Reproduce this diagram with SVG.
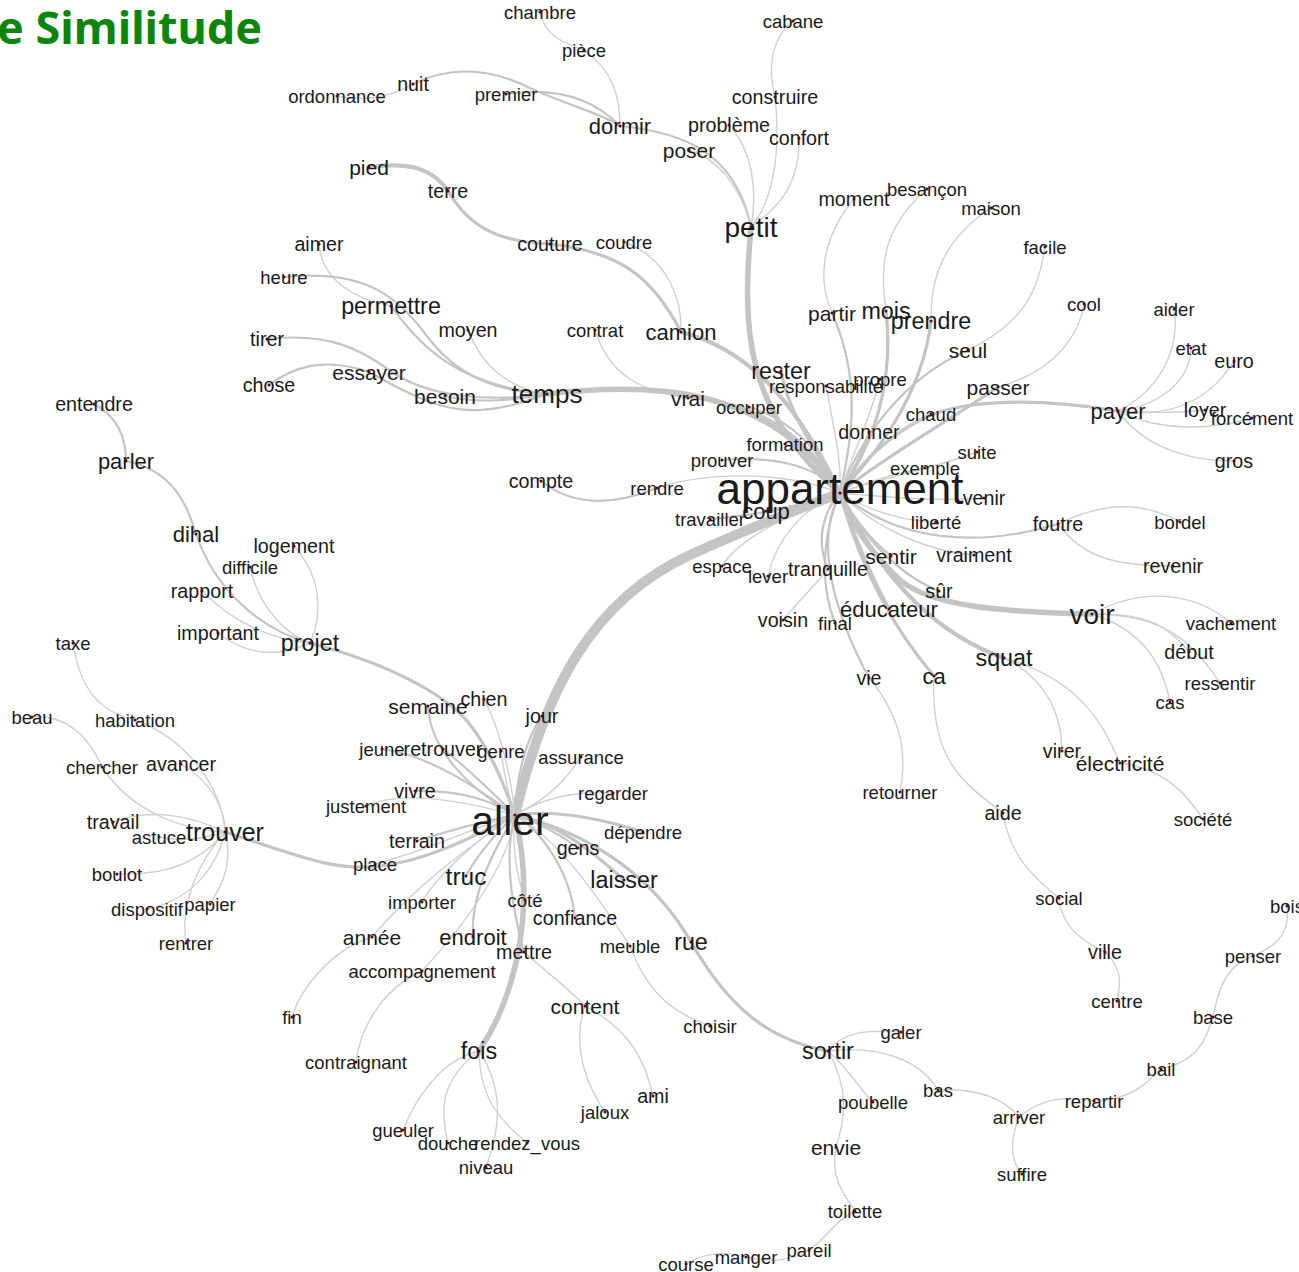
<svg xmlns="http://www.w3.org/2000/svg" width="1299" height="1272" viewBox="0 0 1299 1272">
<style>
.e{fill:none;stroke:#c4c4c4;stroke-linecap:round}
.w1{stroke-width:1.4;stroke:#d0d0d0}
.w2{stroke-width:2.2}
.w3{stroke-width:3.2}
.w4{stroke-width:4.2}
.w5{stroke-width:5.5}
.w10{stroke-width:10}
text{font-family:"Liberation Sans",Arial,sans-serif;fill:#1a1a1a;text-anchor:middle;dominant-baseline:central}
.t18{font-size:18.5px}.t20{font-size:19.7px}.t21{font-size:21px}.t22{font-size:22px}.t23{font-size:23.3px}.t24{font-size:24.5px}
.t25{font-size:25px}.t26{font-size:26px}.t28{font-size:28px}.t41{font-size:41px}.t44{font-size:44px}
.d{fill:#5a0a0a}
.title{font-family:"Noto Sans","DejaVu Sans",sans-serif;font-weight:bold;font-size:45px;fill:#0b860b;text-anchor:start;dominant-baseline:alphabetic}
</style>
<rect width="1299" height="1272" fill="#ffffff"/>
<text class="title" x="-3" y="44">e Similitude</text>
<g id="edges">
<path class="e w1" d="M540,12 C544,36 566,44 584,50"/>
<path class="e w1" d="M584,50 C612,70 620,95 620,126"/>
<path class="e w1" d="M337,96 C370,102 392,96 413,84"/>
<path class="e w2" d="M413,84 C450,66 490,68 530,88 C575,108 605,115 620,126"/>
<path class="e w2" d="M506,94 C560,86 595,100 620,126"/>
<path class="e w2" d="M620,126 C680,132 735,150 751,227"/>
<path class="e w1" d="M689,150 C720,160 742,190 751,227"/>
<path class="e w1" d="M729,125 C752,150 758,190 751,227"/>
<path class="e w1" d="M793,21 C770,40 768,70 775,97"/>
<path class="e w1" d="M775,97 C782,160 770,205 751,227"/>
<path class="e w1" d="M799,138 C800,190 772,212 751,227"/>
<path class="e w5" d="M751,227 C742,330 744,410 840,493"/>
<path class="e w4" d="M369,167 C410,162 432,168 448,191"/>
<path class="e w3" d="M448,191 C472,232 505,242 550,244"/>
<path class="e w3" d="M550,244 C625,252 655,282 681,332"/>
<path class="e w1" d="M624,242 C668,258 682,300 681,332"/>
<path class="e w4" d="M681,332 C760,352 805,420 840,493"/>
<path class="e w1" d="M319,244 C322,282 358,300 391,306"/>
<path class="e w2" d="M284,277 C370,268 400,300 430,340 C460,378 500,392 547,394"/>
<path class="e w2" d="M391,306 C420,345 455,385 547,394"/>
<path class="e w1" d="M468,330 C480,362 505,388 547,394"/>
<path class="e w2" d="M267,339 C330,332 362,350 392,372 C430,398 490,402 547,394"/>
<path class="e w2" d="M269,385 C292,368 322,356 369,372"/>
<path class="e w2" d="M369,372 C415,398 445,412 480,410 C510,408 530,400 547,394"/>
<path class="e w2" d="M445,396 C480,404 515,400 547,394"/>
<path class="e w1" d="M595,330 C610,378 645,392 688,398"/>
<path class="e w5" d="M547,394 C650,382 770,385 840,493"/>
<path class="e w2" d="M688,398 C760,400 812,440 840,493"/>
<path class="e w2" d="M749,407 C792,420 822,452 840,493"/>
<path class="e w3" d="M781,371 C790,420 822,458 840,493"/>
<path class="e w1" d="M826,386 C834,430 842,462 840,493"/>
<path class="e w2" d="M785,444 C812,455 832,472 840,493"/>
<path class="e w2" d="M722,460 C782,455 822,470 840,493"/>
<path class="e w1" d="M657,488 C705,472 782,470 840,493"/>
<path class="e w2" d="M541,481 C572,506 612,506 657,488"/>
<path class="e w2" d="M711,519 C762,514 812,505 840,493"/>
<path class="e w2" d="M765,511 C800,505 826,500 840,493"/>
<path class="e w1" d="M722,566 C735,545 765,525 840,493"/>
<path class="e w1" d="M768,576 C776,540 802,508 840,493"/>
<path class="e w2" d="M828,569 C815,540 824,510 840,493"/>
<path class="e w1" d="M783,620 C800,600 816,584 828,569"/>
<path class="e w2" d="M835,623 C818,580 824,530 840,493"/>
<path class="e w2" d="M869,678 C838,620 812,545 840,493"/>
<path class="e w1" d="M869,678 C906,722 906,762 900,792"/>
<path class="e w3" d="M934,676 C888,622 858,560 840,493"/>
<path class="e w1" d="M934,676 C930,760 962,782 1003,813"/>
<path class="e w1" d="M1003,813 C1010,860 1040,882 1059,898"/>
<path class="e w1" d="M1059,898 C1062,930 1088,944 1105,952"/>
<path class="e w1" d="M1105,952 C1124,970 1120,986 1117,1001"/>
<path class="e w3" d="M889,609 C868,570 852,530 840,493"/>
<path class="e w4" d="M1004,658 C930,632 878,572 840,493"/>
<path class="e w1" d="M1004,658 C1050,680 1062,720 1062,751"/>
<path class="e w1" d="M1004,658 C1080,680 1102,722 1120,763"/>
<path class="e w1" d="M1120,763 C1170,770 1190,800 1203,819"/>
<path class="e w5" d="M1092,614 C1000,612 930,606 900,580 C870,552 850,522 840,493"/>
<path class="e w1" d="M1092,614 C1140,588 1192,590 1231,623"/>
<path class="e w1" d="M1092,614 C1150,612 1172,630 1189,652"/>
<path class="e w1" d="M1092,614 C1162,614 1192,640 1220,683"/>
<path class="e w1" d="M1092,614 C1142,630 1162,662 1170,702"/>
<path class="e w2" d="M939,591 C898,575 858,532 840,493"/>
<path class="e w2" d="M891,556 C868,538 850,512 840,493"/>
<path class="e w1" d="M974,555 C918,550 868,522 840,493"/>
<path class="e w2" d="M1058,524 C978,548 898,542 840,493"/>
<path class="e w1" d="M1058,524 C1110,498 1150,505 1180,522"/>
<path class="e w1" d="M1058,524 C1082,556 1112,566 1173,566"/>
<path class="e w1" d="M936,522 C900,521 868,510 840,493"/>
<path class="e w1" d="M984,498 C930,502 880,496 840,493"/>
<path class="e w1" d="M925,468 C890,474 860,485 840,493"/>
<path class="e w1" d="M977,452 C930,470 872,480 840,493"/>
<path class="e w3" d="M1118,411 C1040,398 962,398 920,420 C882,440 856,470 840,493"/>
<path class="e w1" d="M931,414 C890,432 860,462 840,493"/>
<path class="e w3" d="M998,387 C950,420 880,460 840,493"/>
<path class="e w1" d="M998,387 C1060,370 1080,330 1084,304"/>
<path class="e w1" d="M1118,411 C1160,390 1180,350 1174,309"/>
<path class="e w1" d="M1118,411 C1162,405 1190,380 1191,348"/>
<path class="e w1" d="M1118,411 C1180,420 1215,392 1234,361"/>
<path class="e w1" d="M1118,411 C1150,413 1180,413 1205,410"/>
<path class="e w1" d="M1118,411 C1160,432 1212,430 1252,418"/>
<path class="e w1" d="M1118,411 C1140,442 1180,461 1234,461"/>
<path class="e w2" d="M869,432 C860,460 848,480 840,493"/>
<path class="e w2" d="M968,350 C900,380 860,440 840,493"/>
<path class="e w1" d="M968,350 C1030,320 1040,282 1045,247"/>
<path class="e w3" d="M931,321 C922,400 870,460 840,493"/>
<path class="e w1" d="M991,208 C942,240 930,280 931,321"/>
<path class="e w3" d="M886,311 C896,400 862,460 840,493"/>
<path class="e w1" d="M927,189 C880,230 880,270 886,311"/>
<path class="e w2" d="M832,313 C862,380 852,440 840,493"/>
<path class="e w1" d="M854,199 C820,240 818,282 832,313"/>
<path class="e w1" d="M880,379 C870,420 850,460 840,493"/>
<path class="e w10" d="M515,815 C545,690 592,600 690,555 C760,523 810,505 840,493"/>
<path class="e w2" d="M94,404 C120,418 126,440 126,461"/>
<path class="e w2" d="M126,461 C170,470 186,500 196,534"/>
<path class="e w2" d="M196,534 C216,592 262,630 310,643"/>
<path class="e w1" d="M294,546 C326,582 320,622 310,643"/>
<path class="e w1" d="M250,567 C260,612 290,636 310,643"/>
<path class="e w1" d="M202,591 C232,622 272,640 310,643"/>
<path class="e w1" d="M218,633 C250,658 282,656 310,643"/>
<path class="e w3" d="M310,643 C382,662 440,690 468,722 C492,752 506,790 515,815"/>
<path class="e w3" d="M225,832 C300,856 335,872 380,866 C432,860 482,832 515,815"/>
<path class="e w1" d="M73,643 C80,690 100,712 135,720"/>
<path class="e w1" d="M135,720 C190,740 222,790 225,832"/>
<path class="e w1" d="M32,717 C70,714 90,740 102,767"/>
<path class="e w1" d="M102,767 C130,810 180,830 225,832"/>
<path class="e w1" d="M181,764 C210,780 226,810 225,832"/>
<path class="e w1" d="M113,822 C150,808 190,815 225,832"/>
<path class="e w1" d="M159,837 C185,842 205,838 225,832"/>
<path class="e w1" d="M117,874 C170,876 202,860 225,832"/>
<path class="e w1" d="M147,909 C190,900 216,870 225,832"/>
<path class="e w1" d="M210,904 C226,880 232,858 225,832"/>
<path class="e w1" d="M186,943 C180,900 200,860 225,832"/>
<path class="e w2" d="M428,706 C430,750 470,790 515,815"/>
<path class="e w1" d="M484,699 C500,730 510,770 515,815"/>
<path class="e w2" d="M542,716 C525,740 516,780 515,815"/>
<path class="e w2" d="M382,749 C430,755 480,790 515,815"/>
<path class="e w2" d="M443,749 C470,770 500,800 515,815"/>
<path class="e w1" d="M501,751 C505,780 510,800 515,815"/>
<path class="e w1" d="M581,757 C560,790 535,805 515,815"/>
<path class="e w1" d="M613,793 C570,790 540,800 515,815"/>
<path class="e w2" d="M415,791 C460,790 490,800 515,815"/>
<path class="e w1" d="M366,806 C400,790 460,800 515,815"/>
<path class="e w2" d="M417,841 C450,830 480,822 515,815"/>
<path class="e w1" d="M375,864 C430,850 480,825 515,815"/>
<path class="e w3" d="M643,832 C590,815 550,810 515,815"/>
<path class="e w2" d="M578,848 C555,830 530,820 515,815"/>
<path class="e w3" d="M624,880 C580,840 550,822 515,815"/>
<path class="e w2" d="M466,876 C480,850 500,830 515,815"/>
<path class="e w1" d="M422,902 C440,870 490,830 515,815"/>
<path class="e w1" d="M372,937 C420,880 480,840 515,815"/>
<path class="e w2" d="M473,937 C470,890 500,840 515,815"/>
<path class="e w1" d="M422,971 C470,920 510,860 515,815"/>
<path class="e w1" d="M525,900 C515,870 512,840 515,815"/>
<path class="e w2" d="M524,952 C510,900 505,850 515,815"/>
<path class="e w2" d="M575,918 C570,870 540,830 515,815"/>
<path class="e w5" d="M479,1051 C520,990 535,900 515,815"/>
<path class="e w3" d="M691,942 C650,870 580,830 515,815"/>
<path class="e w1" d="M630,946 C600,900 560,840 515,815"/>
<path class="e w1" d="M630,946 C650,1000 680,1015 710,1026"/>
<path class="e w3" d="M691,942 C730,1010 770,1040 828,1051"/>
<path class="e w1" d="M372,937 C330,950 300,990 292,1017"/>
<path class="e w1" d="M422,971 C380,990 360,1030 356,1062"/>
<path class="e w1" d="M524,952 C550,975 570,990 585,1006"/>
<path class="e w1" d="M585,1006 C570,1050 590,1090 605,1112"/>
<path class="e w1" d="M585,1006 C630,1030 645,1060 653,1096"/>
<path class="e w1" d="M479,1051 C440,1060 415,1100 403,1130"/>
<path class="e w1" d="M479,1051 C440,1080 440,1110 448,1143"/>
<path class="e w1" d="M479,1051 C480,1100 500,1120 527,1143"/>
<path class="e w1" d="M479,1051 C505,1090 500,1130 486,1167"/>
<path class="e w1" d="M828,1051 C845,1030 870,1030 901,1032"/>
<path class="e w1" d="M828,1051 C880,1045 920,1060 938,1090"/>
<path class="e w1" d="M828,1051 C850,1070 860,1090 873,1102"/>
<path class="e w1" d="M828,1051 C850,1090 845,1120 836,1147"/>
<path class="e w1" d="M938,1090 C980,1088 1005,1100 1019,1117"/>
<path class="e w1" d="M1019,1117 C1010,1140 1010,1160 1022,1174"/>
<path class="e w1" d="M1019,1117 C1040,1100 1060,1095 1094,1101"/>
<path class="e w1" d="M1094,1101 C1130,1100 1145,1085 1161,1069"/>
<path class="e w1" d="M1161,1069 C1200,1060 1205,1040 1213,1017"/>
<path class="e w1" d="M1213,1017 C1220,980 1230,965 1253,956"/>
<path class="e w1" d="M1253,956 C1280,945 1290,930 1287,906"/>
<path class="e w1" d="M836,1147 C830,1180 845,1195 855,1211"/>
<path class="e w1" d="M855,1211 C835,1220 825,1240 809,1250"/>
<path class="e w1" d="M809,1250 C790,1262 770,1262 746,1257"/>
<path class="e w1" d="M746,1257 C720,1250 700,1255 686,1264"/>
</g>
<g id="n-appartement"><text class="t44" x="840" y="488">appartement</text><circle class="d" cx="840" cy="493" r="1.6"/></g>
<g id="n-aller"><text class="t41" x="510" y="821">aller</text><circle class="d" cx="515" cy="815" r="1.6"/></g>
<g id="n-petit"><text class="t28" x="751" y="227">petit</text><circle class="d" cx="751" cy="227" r="1.5"/></g>
<g id="n-voir"><text class="t28" x="1092" y="614">voir</text><circle class="d" cx="1092" cy="614" r="1.5"/></g>
<g id="n-temps"><text class="t26" x="547" y="394">temps</text><circle class="d" cx="547" cy="394" r="1.5"/></g>
<g id="n-trouver"><text class="t25" x="225" y="832">trouver</text><circle class="d" cx="225" cy="832" r="1.5"/></g>
<g id="n-truc"><text class="t24" x="466" y="876">truc</text><circle class="d" cx="466" cy="876" r="1.5"/></g>
<g id="n-permettre"><text class="t23" x="391" y="306">permettre</text><circle class="d" cx="391" cy="306" r="1.5"/></g>
<g id="n-rester"><text class="t23" x="781" y="371">rester</text><circle class="d" cx="781" cy="371" r="1.5"/></g>
<g id="n-prendre"><text class="t23" x="931" y="321">prendre</text><circle class="d" cx="931" cy="321" r="1.5"/></g>
<g id="n-mois"><text class="t23" x="886" y="311">mois</text><circle class="d" cx="886" cy="311" r="1.5"/></g>
<g id="n-projet"><text class="t23" x="310" y="643">projet</text><circle class="d" cx="310" cy="643" r="1.5"/></g>
<g id="n-laisser"><text class="t23" x="624" y="880">laisser</text><circle class="d" cx="624" cy="880" r="1.5"/></g>
<g id="n-rue"><text class="t23" x="691" y="942">rue</text><circle class="d" cx="691" cy="942" r="1.5"/></g>
<g id="n-sortir"><text class="t23" x="828" y="1051">sortir</text><circle class="d" cx="828" cy="1051" r="1.5"/></g>
<g id="n-fois"><text class="t23" x="479" y="1051">fois</text><circle class="d" cx="479" cy="1051" r="1.5"/></g>
<g id="n-squat"><text class="t23" x="1004" y="658">squat</text><circle class="d" cx="1004" cy="658" r="1.5"/></g>
<g id="n-camion"><text class="t22" x="681" y="332">camion</text><circle class="d" cx="681" cy="332" r="1.5"/></g>
<g id="n-dormir"><text class="t22" x="620" y="126">dormir</text><circle class="d" cx="620" cy="126" r="1.5"/></g>
<g id="n-dihal"><text class="t22" x="196" y="534">dihal</text><circle class="d" cx="196" cy="534" r="1.5"/></g>
<g id="n-parler"><text class="t22" x="126" y="461">parler</text><circle class="d" cx="126" cy="461" r="1.5"/></g>
<g id="n-ca"><text class="t22" x="934" y="676">ca</text><circle class="d" cx="934" cy="676" r="1.5"/></g>
<g id="n-payer"><text class="t22" x="1118" y="411">payer</text><circle class="d" cx="1118" cy="411" r="1.5"/></g>
<g id="n-endroit"><text class="t22" x="473" y="937">endroit</text><circle class="d" cx="473" cy="937" r="1.5"/></g>
<g id="n-coup"><text class="t22" x="766" y="511">coup</text><circle class="d" cx="766" cy="511" r="1.5"/></g>
<g id="n-educateur"><text class="t22" x="889" y="609">éducateur</text><circle class="d" cx="889" cy="609" r="1.5"/></g>
<g id="n-poser"><text class="t21" x="689" y="150">poser</text><circle class="d" cx="689" cy="150" r="1.5"/></g>
<g id="n-essayer"><text class="t21" x="369" y="372">essayer</text><circle class="d" cx="369" cy="372" r="1.5"/></g>
<g id="n-besoin"><text class="t21" x="445" y="396">besoin</text><circle class="d" cx="445" cy="396" r="1.5"/></g>
<g id="n-pied"><text class="t21" x="369" y="167">pied</text><circle class="d" cx="369" cy="167" r="1.5"/></g>
<g id="n-partir"><text class="t21" x="832" y="313">partir</text><circle class="d" cx="832" cy="313" r="1.5"/></g>
<g id="n-seul"><text class="t21" x="968" y="350">seul</text><circle class="d" cx="968" cy="350" r="1.5"/></g>
<g id="n-passer"><text class="t21" x="998" y="387">passer</text><circle class="d" cx="998" cy="387" r="1.5"/></g>
<g id="n-sentir"><text class="t21" x="891" y="556">sentir</text><circle class="d" cx="891" cy="556" r="1.5"/></g>
<g id="n-vrai"><text class="t21" x="688" y="398">vrai</text><circle class="d" cx="688" cy="398" r="1.5"/></g>
<g id="n-content"><text class="t21" x="585" y="1006">content</text><circle class="d" cx="585" cy="1006" r="1.5"/></g>
<g id="n-semaine"><text class="t21" x="428" y="706">semaine</text><circle class="d" cx="428" cy="706" r="1.5"/></g>
<g id="n-annee"><text class="t21" x="372" y="937">année</text><circle class="d" cx="372" cy="937" r="1.5"/></g>
<g id="n-envie"><text class="t21" x="836" y="1147">envie</text><circle class="d" cx="836" cy="1147" r="1.5"/></g>
<g id="n-electricite"><text class="t21" x="1120" y="763">électricité</text><circle class="d" cx="1120" cy="763" r="1.5"/></g>
<g id="n-nuit"><text class="t20" x="413" y="84">nuit</text><circle class="d" cx="413" cy="84" r="1.5"/></g>
<g id="n-aimer"><text class="t20" x="319" y="244">aimer</text><circle class="d" cx="319" cy="244" r="1.5"/></g>
<g id="n-tirer"><text class="t20" x="267" y="339">tirer</text><circle class="d" cx="267" cy="339" r="1.5"/></g>
<g id="n-moyen"><text class="t20" x="468" y="330">moyen</text><circle class="d" cx="468" cy="330" r="1.5"/></g>
<g id="n-moment"><text class="t20" x="854" y="199">moment</text><circle class="d" cx="854" cy="199" r="1.5"/></g>
<g id="n-probleme"><text class="t20" x="729" y="125">problème</text><circle class="d" cx="729" cy="125" r="1.5"/></g>
<g id="n-confort"><text class="t20" x="799" y="138">confort</text><circle class="d" cx="799" cy="138" r="1.5"/></g>
<g id="n-construire"><text class="t20" x="775" y="97">construire</text><circle class="d" cx="775" cy="97" r="1.5"/></g>
<g id="n-compte"><text class="t20" x="541" y="481">compte</text><circle class="d" cx="541" cy="481" r="1.5"/></g>
<g id="n-donner"><text class="t20" x="869" y="432">donner</text><circle class="d" cx="869" cy="432" r="1.5"/></g>
<g id="n-voisin"><text class="t20" x="783" y="620">voisin</text><circle class="d" cx="783" cy="620" r="1.5"/></g>
<g id="n-tranquille"><text class="t20" x="828" y="569">tranquille</text><circle class="d" cx="828" cy="569" r="1.5"/></g>
<g id="n-mettre"><text class="t20" x="524" y="952">mettre</text><circle class="d" cx="524" cy="952" r="1.5"/></g>
<g id="n-chien"><text class="t20" x="484" y="699">chien</text><circle class="d" cx="484" cy="699" r="1.5"/></g>
<g id="n-jour"><text class="t20" x="542" y="716">jour</text><circle class="d" cx="542" cy="716" r="1.5"/></g>
<g id="n-terrain"><text class="t20" x="417" y="841">terrain</text><circle class="d" cx="417" cy="841" r="1.5"/></g>
<g id="n-vivre"><text class="t20" x="415" y="791">vivre</text><circle class="d" cx="415" cy="791" r="1.5"/></g>
<g id="n-gens"><text class="t20" x="578" y="848">gens</text><circle class="d" cx="578" cy="848" r="1.5"/></g>
<g id="n-confiance"><text class="t20" x="575" y="918">confiance</text><circle class="d" cx="575" cy="918" r="1.5"/></g>
<g id="n-retrouver"><text class="t20" x="443" y="749">retrouver</text><circle class="d" cx="443" cy="749" r="1.5"/></g>
<g id="n-ami"><text class="t20" x="653" y="1096">ami</text><circle class="d" cx="653" cy="1096" r="1.5"/></g>
<g id="n-ville"><text class="t20" x="1105" y="952">ville</text><circle class="d" cx="1105" cy="952" r="1.5"/></g>
<g id="n-aide"><text class="t20" x="1003" y="813">aide</text><circle class="d" cx="1003" cy="813" r="1.5"/></g>
<g id="n-virer"><text class="t20" x="1062" y="751">virer</text><circle class="d" cx="1062" cy="751" r="1.5"/></g>
<g id="n-debut"><text class="t20" x="1189" y="652">début</text><circle class="d" cx="1189" cy="652" r="1.5"/></g>
<g id="n-revenir"><text class="t20" x="1173" y="566">revenir</text><circle class="d" cx="1173" cy="566" r="1.5"/></g>
<g id="n-foutre"><text class="t20" x="1058" y="524">foutre</text><circle class="d" cx="1058" cy="524" r="1.5"/></g>
<g id="n-sur"><text class="t20" x="939" y="591">sûr</text><circle class="d" cx="939" cy="591" r="1.5"/></g>
<g id="n-euro"><text class="t20" x="1234" y="361">euro</text><circle class="d" cx="1234" cy="361" r="1.5"/></g>
<g id="n-loyer"><text class="t20" x="1205" y="410">loyer</text><circle class="d" cx="1205" cy="410" r="1.5"/></g>
<g id="n-gros"><text class="t20" x="1234" y="461">gros</text><circle class="d" cx="1234" cy="461" r="1.5"/></g>
<g id="n-important"><text class="t20" x="218" y="633">important</text><circle class="d" cx="218" cy="633" r="1.5"/></g>
<g id="n-rapport"><text class="t20" x="202" y="591">rapport</text><circle class="d" cx="202" cy="591" r="1.5"/></g>
<g id="n-entendre"><text class="t20" x="94" y="404">entendre</text><circle class="d" cx="94" cy="404" r="1.5"/></g>
<g id="n-logement"><text class="t20" x="294" y="546">logement</text><circle class="d" cx="294" cy="546" r="1.5"/></g>
<g id="n-avancer"><text class="t20" x="181" y="764">avancer</text><circle class="d" cx="181" cy="764" r="1.5"/></g>
<g id="n-travail"><text class="t20" x="113" y="822">travail</text><circle class="d" cx="113" cy="822" r="1.5"/></g>
<g id="n-chose"><text class="t20" x="269" y="385">chose</text><circle class="d" cx="269" cy="385" r="1.5"/></g>
<g id="n-couture"><text class="t20" x="550" y="244">couture</text><circle class="d" cx="550" cy="244" r="1.5"/></g>
<g id="n-terre"><text class="t20" x="448" y="191">terre</text><circle class="d" cx="448" cy="191" r="1.5"/></g>
<g id="n-vraiment"><text class="t20" x="974" y="555">vraiment</text><circle class="d" cx="974" cy="555" r="1.5"/></g>
<g id="n-vie"><text class="t20" x="869" y="678">vie</text><circle class="d" cx="869" cy="678" r="1.5"/></g>
<g id="n-venir"><text class="t20" x="984" y="498">venir</text><circle class="d" cx="984" cy="498" r="1.5"/></g>
<g id="n-chambre"><text class="t18" x="540" y="12">chambre</text><circle class="d" cx="540" cy="12" r="1.5"/></g>
<g id="n-piece"><text class="t18" x="584" y="50">pièce</text><circle class="d" cx="584" cy="50" r="1.5"/></g>
<g id="n-cabane"><text class="t18" x="793" y="21">cabane</text><circle class="d" cx="793" cy="21" r="1.5"/></g>
<g id="n-ordonnance"><text class="t18" x="337" y="96">ordonnance</text><circle class="d" cx="337" cy="96" r="1.5"/></g>
<g id="n-premier"><text class="t18" x="506" y="94">premier</text><circle class="d" cx="506" cy="94" r="1.5"/></g>
<g id="n-contrat"><text class="t18" x="595" y="330">contrat</text><circle class="d" cx="595" cy="330" r="1.5"/></g>
<g id="n-coudre"><text class="t18" x="624" y="242">coudre</text><circle class="d" cx="624" cy="242" r="1.5"/></g>
<g id="n-heure"><text class="t18" x="284" y="277">heure</text><circle class="d" cx="284" cy="277" r="1.5"/></g>
<g id="n-difficile"><text class="t18" x="250" y="567">difficile</text><circle class="d" cx="250" cy="567" r="1.5"/></g>
<g id="n-formation"><text class="t18" x="785" y="444">formation</text><circle class="d" cx="785" cy="444" r="1.5"/></g>
<g id="n-prouver"><text class="t18" x="722" y="460">prouver</text><circle class="d" cx="722" cy="460" r="1.5"/></g>
<g id="n-rendre"><text class="t18" x="657" y="488">rendre</text><circle class="d" cx="657" cy="488" r="1.5"/></g>
<g id="n-espace"><text class="t18" x="722" y="566">espace</text><circle class="d" cx="722" cy="566" r="1.5"/></g>
<g id="n-lever"><text class="t18" x="768" y="576">lever</text><circle class="d" cx="768" cy="576" r="1.5"/></g>
<g id="n-final"><text class="t18" x="835" y="623">final</text><circle class="d" cx="835" cy="623" r="1.5"/></g>
<g id="n-travailler"><text class="t18" x="710" y="519">travailler</text><circle class="d" cx="710" cy="519" r="1.5"/></g>
<g id="n-propre"><text class="t18" x="880" y="379">propre</text><circle class="d" cx="880" cy="379" r="1.5"/></g>
<g id="n-responsabilite"><text class="t18" x="826" y="386">responsabilité</text><circle class="d" cx="826" cy="386" r="1.5"/></g>
<g id="n-occuper"><text class="t18" x="749" y="407">occuper</text><circle class="d" cx="749" cy="407" r="1.5"/></g>
<g id="n-chaud"><text class="t18" x="931" y="414">chaud</text><circle class="d" cx="931" cy="414" r="1.5"/></g>
<g id="n-cool"><text class="t18" x="1084" y="304">cool</text><circle class="d" cx="1084" cy="304" r="1.5"/></g>
<g id="n-facile"><text class="t18" x="1045" y="247">facile</text><circle class="d" cx="1045" cy="247" r="1.5"/></g>
<g id="n-maison"><text class="t18" x="991" y="208">maison</text><circle class="d" cx="991" cy="208" r="1.5"/></g>
<g id="n-besancon"><text class="t18" x="927" y="189">besançon</text><circle class="d" cx="927" cy="189" r="1.5"/></g>
<g id="n-aider"><text class="t18" x="1174" y="309">aider</text><circle class="d" cx="1174" cy="309" r="1.5"/></g>
<g id="n-etat"><text class="t18" x="1191" y="348">etat</text><circle class="d" cx="1191" cy="348" r="1.5"/></g>
<g id="n-forcement"><text class="t18" x="1252" y="418">forcément</text><circle class="d" cx="1252" cy="418" r="1.5"/></g>
<g id="n-suite"><text class="t18" x="977" y="452">suite</text><circle class="d" cx="977" cy="452" r="1.5"/></g>
<g id="n-exemple"><text class="t18" x="925" y="468">exemple</text><circle class="d" cx="925" cy="468" r="1.5"/></g>
<g id="n-liberte"><text class="t18" x="936" y="522">liberté</text><circle class="d" cx="936" cy="522" r="1.5"/></g>
<g id="n-bordel"><text class="t18" x="1180" y="522">bordel</text><circle class="d" cx="1180" cy="522" r="1.5"/></g>
<g id="n-vachement"><text class="t18" x="1231" y="623">vachement</text><circle class="d" cx="1231" cy="623" r="1.5"/></g>
<g id="n-ressentir"><text class="t18" x="1220" y="683">ressentir</text><circle class="d" cx="1220" cy="683" r="1.5"/></g>
<g id="n-cas"><text class="t18" x="1170" y="702">cas</text><circle class="d" cx="1170" cy="702" r="1.5"/></g>
<g id="n-societe"><text class="t18" x="1203" y="819">société</text><circle class="d" cx="1203" cy="819" r="1.5"/></g>
<g id="n-retourner"><text class="t18" x="900" y="792">retourner</text><circle class="d" cx="900" cy="792" r="1.5"/></g>
<g id="n-social"><text class="t18" x="1059" y="898">social</text><circle class="d" cx="1059" cy="898" r="1.5"/></g>
<g id="n-centre"><text class="t18" x="1117" y="1001">centre</text><circle class="d" cx="1117" cy="1001" r="1.5"/></g>
<g id="n-bois"><text class="t18" x="1287" y="906">bois</text><circle class="d" cx="1287" cy="906" r="1.5"/></g>
<g id="n-penser"><text class="t18" x="1253" y="956">penser</text><circle class="d" cx="1253" cy="956" r="1.5"/></g>
<g id="n-base"><text class="t18" x="1213" y="1017">base</text><circle class="d" cx="1213" cy="1017" r="1.5"/></g>
<g id="n-bail"><text class="t18" x="1161" y="1069">bail</text><circle class="d" cx="1161" cy="1069" r="1.5"/></g>
<g id="n-repartir"><text class="t18" x="1094" y="1101">repartir</text><circle class="d" cx="1094" cy="1101" r="1.5"/></g>
<g id="n-arriver"><text class="t18" x="1019" y="1117">arriver</text><circle class="d" cx="1019" cy="1117" r="1.5"/></g>
<g id="n-suffire"><text class="t18" x="1022" y="1174">suffire</text><circle class="d" cx="1022" cy="1174" r="1.5"/></g>
<g id="n-bas"><text class="t18" x="938" y="1090">bas</text><circle class="d" cx="938" cy="1090" r="1.5"/></g>
<g id="n-galer"><text class="t18" x="901" y="1032">galer</text><circle class="d" cx="901" cy="1032" r="1.5"/></g>
<g id="n-poubelle"><text class="t18" x="873" y="1102">poubelle</text><circle class="d" cx="873" cy="1102" r="1.5"/></g>
<g id="n-toilette"><text class="t18" x="855" y="1211">toilette</text><circle class="d" cx="855" cy="1211" r="1.5"/></g>
<g id="n-pareil"><text class="t18" x="809" y="1250">pareil</text><circle class="d" cx="809" cy="1250" r="1.5"/></g>
<g id="n-manger"><text class="t18" x="746" y="1257">manger</text><circle class="d" cx="746" cy="1257" r="1.5"/></g>
<g id="n-course"><text class="t18" x="686" y="1264">course</text><circle class="d" cx="686" cy="1264" r="1.5"/></g>
<g id="n-choisir"><text class="t18" x="710" y="1026">choisir</text><circle class="d" cx="710" cy="1026" r="1.5"/></g>
<g id="n-meuble"><text class="t18" x="630" y="946">meuble</text><circle class="d" cx="630" cy="946" r="1.5"/></g>
<g id="n-cote"><text class="t18" x="525" y="900">côté</text><circle class="d" cx="525" cy="900" r="1.5"/></g>
<g id="n-jaloux"><text class="t18" x="605" y="1112">jaloux</text><circle class="d" cx="605" cy="1112" r="1.5"/></g>
<g id="n-douche"><text class="t18" x="448" y="1143">douche</text><circle class="d" cx="448" cy="1143" r="1.5"/></g>
<g id="n-rendez_vous"><text class="t18" x="527" y="1143">rendez_vous</text><circle class="d" cx="527" cy="1143" r="1.5"/></g>
<g id="n-niveau"><text class="t18" x="486" y="1167">niveau</text><circle class="d" cx="486" cy="1167" r="1.5"/></g>
<g id="n-gueuler"><text class="t18" x="403" y="1130">gueuler</text><circle class="d" cx="403" cy="1130" r="1.5"/></g>
<g id="n-contraignant"><text class="t18" x="356" y="1062">contraignant</text><circle class="d" cx="356" cy="1062" r="1.5"/></g>
<g id="n-fin"><text class="t18" x="292" y="1017">fin</text><circle class="d" cx="292" cy="1017" r="1.5"/></g>
<g id="n-accompagnement"><text class="t18" x="422" y="971">accompagnement</text><circle class="d" cx="422" cy="971" r="1.5"/></g>
<g id="n-importer"><text class="t18" x="422" y="902">importer</text><circle class="d" cx="422" cy="902" r="1.5"/></g>
<g id="n-place"><text class="t18" x="375" y="864">place</text><circle class="d" cx="375" cy="864" r="1.5"/></g>
<g id="n-justement"><text class="t18" x="366" y="806">justement</text><circle class="d" cx="366" cy="806" r="1.5"/></g>
<g id="n-jeune"><text class="t18" x="382" y="749">jeune</text><circle class="d" cx="382" cy="749" r="1.5"/></g>
<g id="n-genre"><text class="t18" x="501" y="751">genre</text><circle class="d" cx="501" cy="751" r="1.5"/></g>
<g id="n-assurance"><text class="t18" x="581" y="757">assurance</text><circle class="d" cx="581" cy="757" r="1.5"/></g>
<g id="n-regarder"><text class="t18" x="613" y="793">regarder</text><circle class="d" cx="613" cy="793" r="1.5"/></g>
<g id="n-dependre"><text class="t18" x="643" y="832">dépendre</text><circle class="d" cx="643" cy="832" r="1.5"/></g>
<g id="n-taxe"><text class="t18" x="73" y="643">taxe</text><circle class="d" cx="73" cy="643" r="1.5"/></g>
<g id="n-beau"><text class="t18" x="32" y="717">beau</text><circle class="d" cx="32" cy="717" r="1.5"/></g>
<g id="n-habitation"><text class="t18" x="135" y="720">habitation</text><circle class="d" cx="135" cy="720" r="1.5"/></g>
<g id="n-chercher"><text class="t18" x="102" y="767">chercher</text><circle class="d" cx="102" cy="767" r="1.5"/></g>
<g id="n-astuce"><text class="t18" x="159" y="837">astuce</text><circle class="d" cx="159" cy="837" r="1.5"/></g>
<g id="n-boulot"><text class="t18" x="117" y="874">boulot</text><circle class="d" cx="117" cy="874" r="1.5"/></g>
<g id="n-dispositif"><text class="t18" x="147" y="909">dispositif</text><circle class="d" cx="147" cy="909" r="1.5"/></g>
<g id="n-papier"><text class="t18" x="210" y="904">papier</text><circle class="d" cx="210" cy="904" r="1.5"/></g>
<g id="n-rentrer"><text class="t18" x="186" y="943">rentrer</text><circle class="d" cx="186" cy="943" r="1.5"/></g>
</svg>
